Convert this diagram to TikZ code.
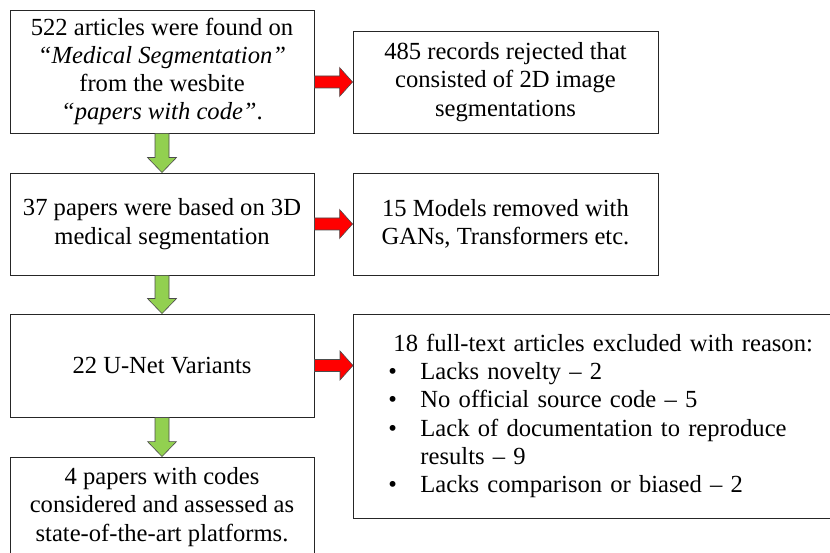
\documentclass[tikz,border=0pt]{standalone}
\usepackage{fontspec}
\setmainfont{Liberation Serif}
\usetikzlibrary{calc}

\definecolor{arrowgreen}{RGB}{146,208,80}
\definecolor{arrowred}{RGB}{255,0,0}

\tikzset{
  box/.style={draw=black!85, line width=0.9pt, align=center, inner sep=0pt,
    minimum width=304pt, minimum height=102pt,
    font=\fontsize{24.6pt}{28.3pt}\selectfont},
  downarrow/.style={draw=black!70, line width=0.6pt, fill=arrowgreen},
  rightarrow/.style={draw=black!70, line width=0.6pt, fill=arrowred},
}

% block arrow down, from #1.south to #2.north
\newcommand{\greenarrow}[2]{%
  \draw[downarrow] ($(#1.south)+(-7,0)$) -- ($(#1.south)+(7,0)$)
    -- ($(#2.north)+(7,-15)$) -- ($(#2.north)+(14.5,-15)$) -- (#2.north)
    -- ($(#2.north)+(-14.5,-15)$) -- ($(#2.north)+(-7,-15)$) -- cycle;}

% block arrow right, from #1.east to #2.west, at the height of #3
\newcommand{\redarrow}[3]{%
  \coordinate (tail) at (#1.east |- #3);
  \coordinate (tip) at (#2.west |- #3);
  \draw[rightarrow] ($(tail)+(0,-6)$) -- ($(tip)+(-13,-6)$)
    -- ($(tip)+(-13,-14.5)$) -- (tip) -- ($(tip)+(-13,14.5)$)
    -- ($(tip)+(-13,6)$) -- ($(tail)+(0,6)$) -- cycle;}

\begin{document}
\begin{tikzpicture}[x=1pt, y=-1pt]
        \useasboundingbox (0,0) rectangle (830,553);
        \clip (0,0) rectangle (830,553);

        % left column
        \node[box, minimum height=123pt] (found) at (162,71.5)
            {522 articles were found on\\ \textit{“Medical Segmentation”}\\
             from the wesbite\\ \textit{“papers with code”}.};
        \node[box] (based) at (162,224)
            {37 papers were based on 3D\\ medical segmentation};
        \node[box, minimum height=103pt] (unet) at (162,365.5)
            {22 U-Net Variants};
        \node[box, minimum height=100pt] (final) at (162,507)
            {4 papers with codes\\ considered and assessed as\\ state-of-the-art platforms.};

        % right column
        \node[box, minimum width=305pt] (rejected) at (505.5,82)
            {485 records rejected that\\ consisted of 2D image\\ segmentations};
        \node[box, minimum width=305pt] (removed) at (505.5,224)
            {15 Models removed with\\ GANs, Transformers etc.};
        \node[box, anchor=west, minimum width=520pt, minimum height=204pt,
              text width=450pt, inner xsep=35pt, align=left] (excluded) at (353,416)
            {\hspace*{5pt}18 full-text articles excluded with reason:\\
             \makebox[32pt][l]{\textbullet}Lacks novelty -- 2\\
             \makebox[32pt][l]{\textbullet}No official source code -- 5\\
             \makebox[32pt][l]{\textbullet}Lack of documentation to reproduce\\
             \hspace*{32pt}results -- 9\\
             \makebox[32pt][l]{\textbullet}Lacks comparison or biased -- 2};

        % green arrows down
        \greenarrow{found}{based}
        \greenarrow{based}{unet}
        \greenarrow{unet}{final}

        % red arrows right
        \redarrow{found}{rejected}{rejected.west}
        \redarrow{based}{removed}{removed.west}
        \redarrow{unet}{excluded}{unet.east}
    \end{tikzpicture}
\end{document}
